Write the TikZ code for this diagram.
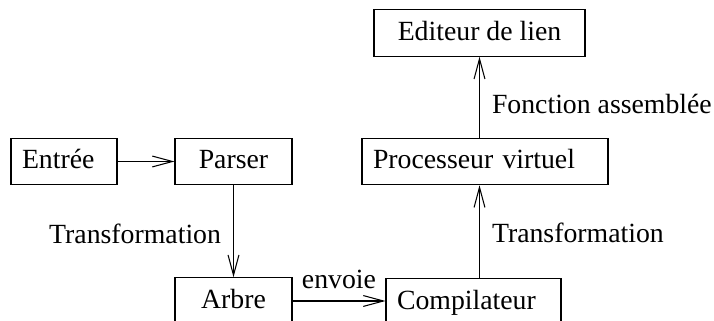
\documentclass[tikz,border=0pt]{standalone}
\usepackage{fontspec}
\setmainfont{Liberation Serif}
\usetikzlibrary{arrows.meta}

\begin{document}
\begin{tikzpicture}[
		font=\fontsize{15.8}{19}\selectfont,
		box/.style={draw, semithick, minimum height=0.93cm, inner xsep=0.22cm, inner ysep=0pt, text height=1.05em, text depth=0.2em},
		flow/.style={-{Straight Barb[length=11.5pt, width=6.2pt]}, semithick},
		lbl/.style={inner sep=0.24cm},
	]
	\useasboundingbox (0, 0) rectangle (14.28, 6.42);
	\clip (0, 0) rectangle (14.28, 6.42);

	\node[box, text width=1.68cm, align=left] (entree) at (1.28, 3.19) {Entrée};
	\node[box, minimum width=2.34cm] (parser) at (4.67, 3.19) {Parser};
	\node[box, minimum width=2.34cm] (arbre) at (4.67, 0.40) {Arbre};
	\node[box, text width=3.06cm, align=left] (compil) at (9.47, 0.38) {Compilateur};
	\node[box, text width=4.48cm, align=left] (proc) at (9.70, 3.19) {Processeur virtuel};
	\node[box, minimum width=4.22cm] (edit) at (9.59, 5.76) {Editeur de lien};

	\draw[flow] (entree.east) -- (entree.east -| parser.west);
	\draw[flow] (parser) -- node[lbl, left, yshift=-0.05cm]{Transformation} (arbre);
	\draw[flow] (arbre.east) -- node[lbl, above]{envoie} (arbre.east -| compil.west);
	\draw[flow] (compil.north -| edit.south) -- node[lbl, right, yshift=-0.03cm]{Transformation} (proc.south -| edit.south);
	\draw[flow] (proc.north -| edit.south) -- node[lbl, right, yshift=-0.14cm]{Fonction assemblée} (edit.south);
\end{tikzpicture}
\end{document}
